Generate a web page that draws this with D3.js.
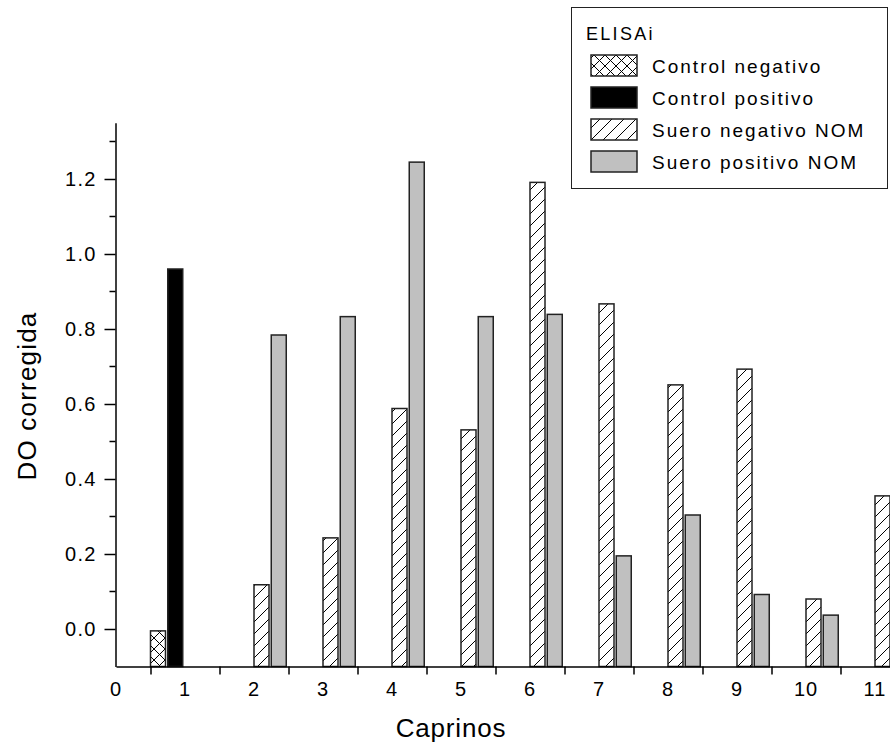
<!DOCTYPE html>
<html>
<head>
<meta charset="utf-8">
<script src="https://cdn.jsdelivr.net/npm/d3@7"></script>
<style>
  body { margin: 0; background: #fff; }
  text { font-family: Arial, "Liberation Sans", sans-serif; fill: #000; }
</style>
</head>
<body>
<div class="barchart"></div>
<script>
var svgWidth = 890;
var svgHeight = 755;

// caprino number for each position
var caprinos = [1, 2, 3, 4, 5, 6, 7, 8, 9, 10, 11];
var seriesNames = ["Control negativo", "Control positivo", "Suero negativo NOM", "Suero positivo NOM"];
var controlNegativo = [-0.005, null, null, null, null, null, null, null, null, null, null];
var controlPositivo = [0.96, null, null, null, null, null, null, null, null, null, null];
var sueroNegativo = [null, 0.118, 0.243, 0.588, 0.531, 1.191, 0.867, 0.651, 0.693, 0.080, 0.355];
var sueroPositivo = [null, 0.784, 0.833, 1.245, 0.833, 0.839, 0.195, 0.304, 0.092, 0.037, null];
var xTickLabels = [0, 1, 2, 3, 4, 5, 6, 7, 8, 9, 10, 11];
var yTickLabels = [0.0, 0.2, 0.4, 0.6, 0.8, 1.0, 1.2];

var seriesValues = [controlNegativo, controlPositivo, sueroNegativo, sueroPositivo];

var svg = d3.select(".barchart")
  .append("svg")
  .attr("width", svgWidth)
  .attr("height", svgHeight);

// patterns for the hatched fills
var defs = svg.append("defs");
var cross = defs.append("pattern")
  .attr("id", "crossHatch")
  .attr("patternUnits", "userSpaceOnUse")
  .attr("width", 11).attr("height", 11);
cross.append("rect").attr("width", 11).attr("height", 11).attr("fill", "#fff");
cross.append("path")
  .attr("d", "M0,0 L11,11 M11,0 L0,11")
  .attr("stroke", "#000").attr("stroke-width", 1);

var diag = defs.append("pattern")
  .attr("id", "diagHatch")
  .attr("patternUnits", "userSpaceOnUse")
  .attr("width", 12).attr("height", 12);
diag.append("rect").attr("width", 12).attr("height", 12).attr("fill", "#fff");
diag.append("path")
  .attr("d", "M0,12 L12,0 M-3,3 L3,-3 M9,15 L15,9")
  .attr("stroke", "#000").attr("stroke-width", 1);

var fills = ["url(#crossHatch)", "#000", "url(#diagHatch)", "#c0c0c0"];

// scales
var xScale = d3.scaleLinear()
  .domain([0, 11.3])
  .range([116, 116 + 11.3 * 69]);

var yScale = d3.scaleLinear()
  .domain([-0.1, 1.35])
  .range([666.5, 122.75]);

var slot = d3.scaleBand()
  .domain(seriesNames)
  .range([0, xScale(1) - xScale(0)])
  .paddingInner(0.13)
  .paddingOuter(0.065)
  .align(0);

// bars
var barData = [];
seriesValues.forEach(function(vals, s) {
  vals.forEach(function(v, i) {
    if (v !== null) barData.push({ caprino: caprinos[i], serie: seriesNames[s], value: v, idx: s });
  });
});

svg.append("g").selectAll("rect")
  .data(barData)
  .enter()
  .append("rect")
  .attr("x", d => xScale(d.caprino - 0.5) + slot(d.serie))
  .attr("width", slot.bandwidth())
  .attr("y", d => yScale(d.value))
  .attr("height", d => yScale(-0.1) - yScale(d.value))
  .attr("fill", d => fills[d.idx])
  .attr("stroke", "#222")
  .attr("stroke-width", 1.5);

// y axis
var leftAxis = d3.axisLeft(yScale)
  .tickValues(yTickLabels)
  .tickFormat(d3.format(".1f"))
  .tickSizeInner(11)
  .tickSizeOuter(0)
  .tickPadding(8);

var yAxis = svg.append("g")
  .attr("transform", "translate(115.5,0)")
  .call(leftAxis);

var minorY = d3.range(-1, 14, 2).map(d => d / 10).filter(d => d > -0.1);
yAxis.selectAll(".minor")
  .data(minorY)
  .enter()
  .append("line")
  .attr("x1", -6).attr("x2", 0)
  .attr("y1", d => yScale(d)).attr("y2", d => yScale(d))
  .attr("stroke", "#000").attr("stroke-width", 1.5);

// x axis: ticks at group boundaries, labels at integers
var bottomAxis = d3.axisBottom(xScale)
  .tickValues(d3.range(0.5, 11, 1))
  .tickFormat("")
  .tickSizeInner(8)
  .tickSizeOuter(0);

var xAxis = svg.append("g")
  .attr("transform", "translate(0,666.5)")
  .call(bottomAxis);

xAxis.selectAll(".xlab")
  .data(xTickLabels)
  .enter()
  .append("text")
  .attr("x", d => xScale(d))
  .attr("y", 29)
  .attr("text-anchor", "middle")
  .attr("font-size", 20)
  .attr("letter-spacing", 1)
  .text(d => d);

svg.selectAll(".domain, .tick line")
  .attr("stroke", "#000")
  .attr("stroke-width", 1.5);
yAxis.selectAll(".tick text")
  .attr("font-size", 20)
  .attr("letter-spacing", 1.2)
  .attr("fill", "#000");

// axis titles
svg.append("text")
  .attr("x", 451)
  .attr("y", 737)
  .attr("text-anchor", "middle")
  .attr("font-size", 26)
  .attr("letter-spacing", 0.8)
  .text("Caprinos");

svg.append("text")
  .attr("transform", "translate(36,396) rotate(-90)")
  .attr("text-anchor", "middle")
  .attr("font-size", 26)
  .attr("letter-spacing", 1.2)
  .text("DO corregida");

// legend
var legend = svg.append("g");
legend.append("rect")
  .attr("x", 571.5).attr("y", 7.5)
  .attr("width", 316).attr("height", 181)
  .attr("fill", "#fff")
  .attr("stroke", "#222")
  .attr("stroke-width", 1);

legend.append("text")
  .attr("x", 586).attr("y", 40)
  .attr("font-size", 18)
  .attr("letter-spacing", 2.3)
  .text("ELISAi");

var items = legend.selectAll(".item")
  .data(seriesNames)
  .enter()
  .append("g")
  .attr("transform", (d, i) => `translate(0, ${55 + i * 32})`);

items.append("rect")
  .attr("x", 591).attr("y", 0)
  .attr("width", 46).attr("height", 21)
  .attr("fill", (d, i) => fills[i])
  .attr("stroke", "#222")
  .attr("stroke-width", 1.5);

items.append("text")
  .attr("x", 652).attr("y", 18)
  .attr("font-size", 19)
  .attr("letter-spacing", 2)
  .text(d => d);
</script>
</body>
</html>
